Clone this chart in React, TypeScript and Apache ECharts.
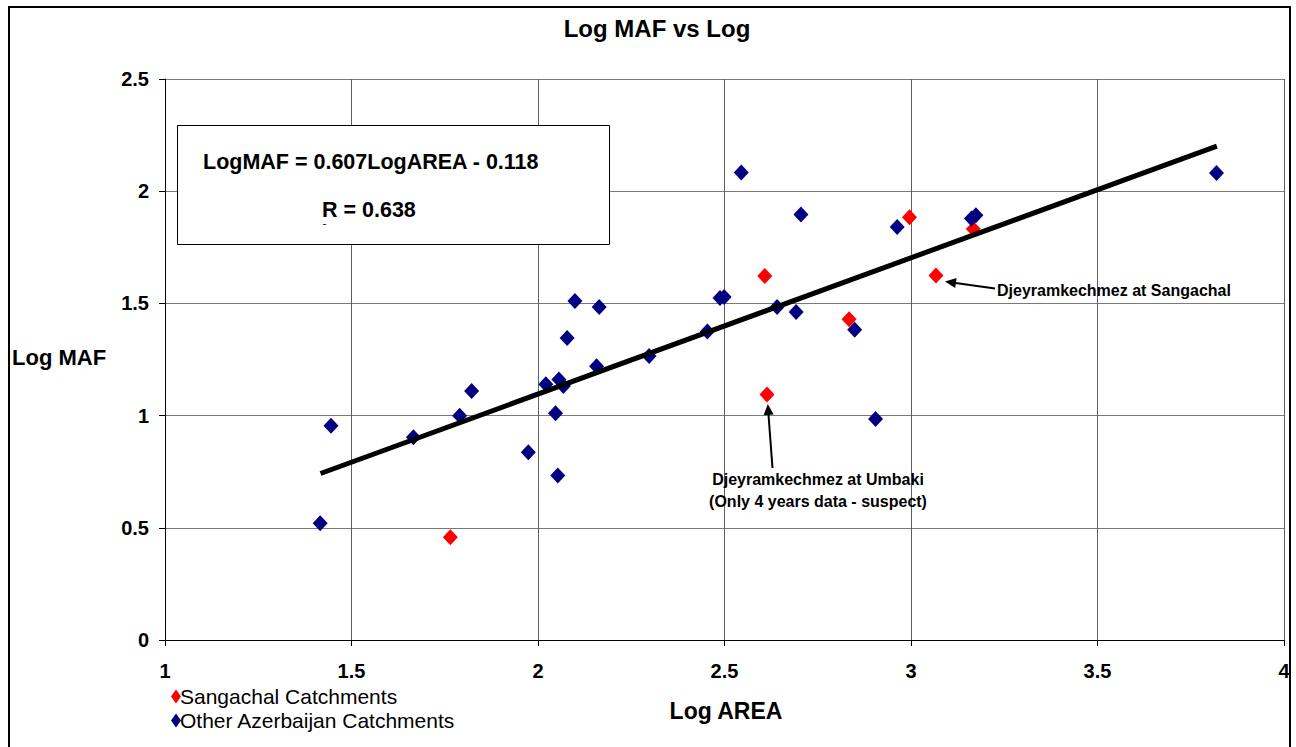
import React, { useEffect, useRef } from "react";
import * as echarts from "echarts";

const sangachalX = [1.765, 2.608, 2.614, 2.834, 2.996, 3.067, 3.167];
const sangachalY = [0.458, 1.622, 1.094, 1.429, 1.884, 1.624, 1.831];

const otherX = [1.416, 1.445, 1.666, 1.79, 1.822, 1.974, 2.021, 2.056, 2.047, 2.053, 2.068, 2.078, 2.099, 2.157, 2.164, 2.298, 2.454, 2.488, 2.499, 2.545, 2.641, 2.705, 2.692, 2.849, 2.905, 2.963, 3.162, 3.174, 3.819];
const otherY = [0.52, 0.955, 0.904, 0.999, 1.11, 0.837, 1.14, 1.161, 1.011, 0.733, 1.132, 1.346, 1.511, 1.22, 1.484, 1.266, 1.375, 1.524, 1.528, 2.083, 1.484, 1.896, 1.462, 1.383, 0.985, 1.84, 1.878, 1.893, 2.081];

const trendX = [1.417, 3.82];
const trendY = [0.742, 2.201];

const seriesNames = ["Sangachal Catchments", "Other Azerbaijan Catchments"];
const titleText = "Log MAF vs Log";
const xName = "Log AREA";
const yName = "Log MAF";
const equation = "LogMAF = 0.607LogAREA - 0.118";
const rText = "R = 0.638";
const note1 = "Djeyramkechmez at Sangachal";
const note2 = ["Djeyramkechmez at Umbaki", "(Only 4 years data - suspect)"];

const FONT = "Arial, 'Liberation Sans', sans-serif";

const zip = (xs: number[], ys: number[]) => xs.map((x, i) => [x, ys[i]]);

export default function App() {
  const ref = useRef<HTMLDivElement>(null);
  useEffect(() => {
    document.body.style.margin = "0";
    const chart = echarts.init(ref.current!, null, { renderer: "svg" });
    const arrowHead = (tx: number, ty: number, fx: number, fy: number) => {
      const ang = Math.atan2(ty - fy, tx - fx);
      const L = 11, W = 5;
      const bx = tx - L * Math.cos(ang), by = ty - L * Math.sin(ang);
      const px = -Math.sin(ang), py = Math.cos(ang);
      return {
        type: "polygon",
        shape: { points: [[tx, ty], [bx + W * px, by + W * py], [bx - W * px, by - W * py]] },
        style: { fill: "#000" },
        z: 20,
      };
    };
    chart.setOption({
      animation: false,
      backgroundColor: "#fff",
      title: {
        text: titleText,
        left: 652,
        top: 11,
        textAlign: "center",
        textStyle: { fontFamily: FONT, fontSize: 24, fontWeight: "bold", color: "#000" },
      },
      legend: {
        orient: "vertical",
        left: 166,
        top: 681,
        itemGap: 3,
        icon: "diamond",
        itemWidth: 10,
        itemHeight: 14,
        data: seriesNames,
        textStyle: { fontFamily: FONT, fontSize: 21, color: "#000", padding: [0, 0, 0, -6] },
      },
      grid: { left: 165, top: 79, right: 12, bottom: 107, show: false },
      xAxis: {
        type: "value",
        min: 1,
        max: 4,
        interval: 0.5,
        axisLine: { show: true, onZero: false, lineStyle: { color: "#000", width: 1 } },
        axisTick: { show: true, length: 6, lineStyle: { color: "#000" } },
        axisLabel: { margin: 21, fontFamily: FONT, fontSize: 20, fontWeight: "bold", color: "#000" },
        splitLine: { show: true, lineStyle: { color: "#5f5f5f", width: 1 } },
      },
      yAxis: {
        type: "value",
        min: 0,
        max: 2.5,
        interval: 0.5,
        axisLine: { show: true, onZero: false, lineStyle: { color: "#000", width: 1 } },
        axisTick: { show: true, length: 6, lineStyle: { color: "#000" } },
        axisLabel: { margin: 16, fontFamily: FONT, fontSize: 20, fontWeight: "bold", color: "#000" },
        splitLine: { show: true, lineStyle: { color: "#7a7a7a", width: 1 } },
      },
      series: [
        {
          name: seriesNames[0],
          type: "scatter",
          symbol: "diamond",
          symbolSize: [15, 16],
          itemStyle: { color: "#ff0000", opacity: 1 },
          data: zip(sangachalX, sangachalY),
          z: 3,
        },
        {
          name: seriesNames[1],
          type: "scatter",
          symbol: "diamond",
          symbolSize: [15, 16],
          itemStyle: { color: "#000080", opacity: 1 },
          data: zip(otherX, otherY),
          z: 4,
        },
        {
          name: "trend",
          type: "line",
          showSymbol: false,
          symbol: "none",
          lineStyle: { color: "#000", width: 5 },
          data: zip(trendX, trendY),
          z: 5,
        },
      ],
      graphic: [
        {
          type: "rect",
          shape: { x: 9, y: 7, width: 1281, height: 760 },
          style: { fill: "none", stroke: "#000", lineWidth: 2 },
          z: 30,
        },
        {
          type: "rect",
          shape: { x: 177.5, y: 125.5, width: 432, height: 119 },
          style: { fill: "#fff", stroke: "#000", lineWidth: 1 },
          z: 10,
        },
        {
          type: "text",
          x: 203,
          y: 162,
          style: { text: equation, fontFamily: FONT, fontSize: 21.5, fontWeight: "bold", fill: "#000", verticalAlign: "middle" },
          z: 11,
        },
        {
          type: "text",
          x: 322,
          y: 210,
          style: { text: rText, fontFamily: FONT, fontSize: 21.5, fontWeight: "bold", fill: "#000", verticalAlign: "middle" },
          z: 11,
        },
        {
          type: "text",
          x: 322,
          y: 222,
          style: { text: "2", fontFamily: FONT, fontSize: 9, fontWeight: "bold", fill: "#000", verticalAlign: "top" },
          z: 11,
        },
        {
          type: "rect",
          shape: { x: 318, y: 225, width: 16, height: 12 },
          style: { fill: "#fff" },
          z: 12,
        },
        {
          type: "text",
          x: 997,
          y: 290,
          style: { text: note1, fontFamily: FONT, fontSize: 16, fontWeight: "bold", fill: "#000", verticalAlign: "middle" },
          z: 11,
        },
        {
          type: "line",
          shape: { x1: 995, y1: 288.5, x2: 952, y2: 282.5 },
          style: { stroke: "#000", lineWidth: 2 },
          z: 20,
        },
        arrowHead(945, 281.5, 995, 288.5),
        {
          type: "text",
          x: 818,
          y: 479,
          style: { text: note2[0], fontFamily: FONT, fontSize: 16, fontWeight: "bold", fill: "#000", verticalAlign: "middle", align: "center" },
          z: 11,
        },
        {
          type: "text",
          x: 818,
          y: 501,
          style: { text: note2[1], fontFamily: FONT, fontSize: 16, fontWeight: "bold", fill: "#000", verticalAlign: "middle", align: "center" },
          z: 11,
        },
        {
          type: "line",
          shape: { x1: 772.5, y1: 468, x2: 768.3, y2: 412 },
          style: { stroke: "#000", lineWidth: 2 },
          z: 20,
        },
        arrowHead(767.8, 404, 772.5, 468),
        {
          type: "text",
          x: 12,
          y: 357,
          style: { text: yName, fontFamily: FONT, fontSize: 22, fontWeight: "bold", fill: "#000", verticalAlign: "middle" },
          z: 11,
        },
        {
          type: "text",
          x: 726,
          y: 711,
          style: { text: xName, fontFamily: FONT, fontSize: 23, fontWeight: "bold", fill: "#000", verticalAlign: "middle", align: "center" },
          z: 11,
        },
      ],
    });
    return () => chart.dispose();
  }, []);
  return <div ref={ref} style={{ width: 1296, height: 747 }} />;
}
